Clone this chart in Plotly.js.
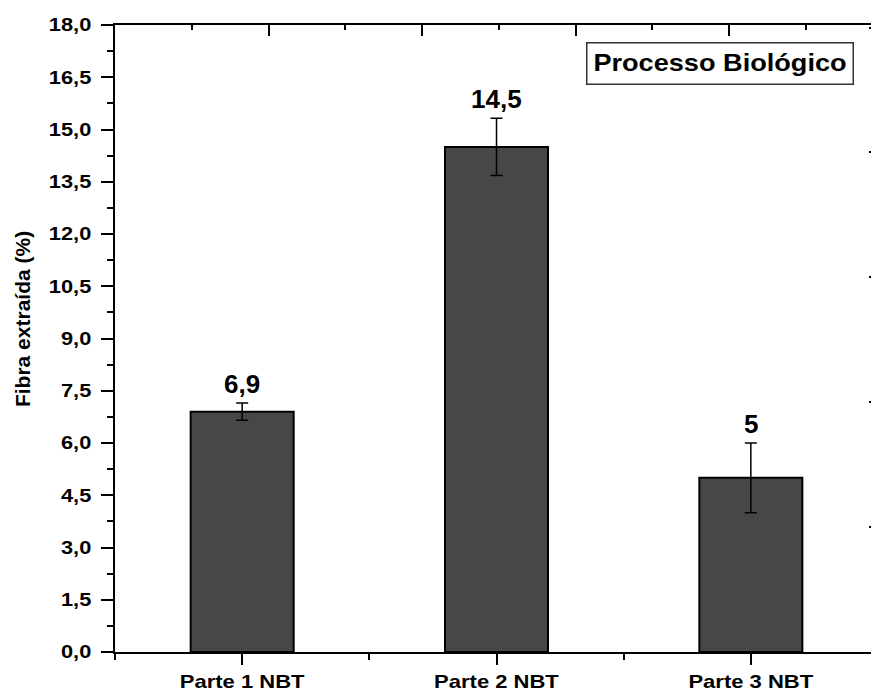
<!DOCTYPE html>
<html>
<head>
<meta charset="utf-8">
<script src="https://cdn.plot.ly/plotly-3.0.1.min.js"></script>
<style>
  html, body { margin: 0; padding: 0; overflow: hidden; background: #fff; }
  #chart { width: 885px; height: 693px; }
</style>
</head>
<body>
<div id="chart"></div>
<script>
// Extracted fibre per part (%), with standard deviation
const categories = ['Parte 1 NBT', 'Parte 2 NBT', 'Parte 3 NBT'];
const fibraExtraida = [6.9, 14.5, 5];
const desvio = [0.25, 0.82, 1.0];
const yTitle = 'Fibra extraída (%)';
const boxLabel = 'Processo Biológico';

const FONT = 'Liberation Sans, Arial, sans-serif';
const xPos = categories.map((_, i) => i);
const fmtValue = v => String(v).replace('.', ',');

const bars = {
  type: 'bar',
  x: xPos,
  y: fibraExtraida,
  width: 0.405,
  marker: { color: '#474747', line: { color: '#000', width: 2 } },
  error_y: { type: 'data', array: desvio, visible: true, color: '#000', thickness: 1.5, width: 6 },
  hoverinfo: 'skip',
  showlegend: false
};

// empty trace so the mirrored top/right frame axes get their own subplot
const frame = { type: 'scatter', x: [], y: [], xaxis: 'x2', yaxis: 'y2', showlegend: false, hoverinfo: 'skip' };

const tickFont = { family: FONT, size: 18.5, color: '#000', weight: 'bold' };

const valueLabels = xPos.map(i => ({
  x: i, y: fibraExtraida[i] + desvio[i], xref: 'x', yref: 'y',
  text: fmtValue(fibraExtraida[i]), showarrow: false,
  xanchor: 'center', yanchor: 'bottom', yshift: 2,
  font: { family: FONT, size: 26, color: '#000', weight: 'bold' }
}));

const layout = {
  width: 885, height: 693,
  margin: { l: 115, r: 7, t: 25, b: 41 },
  paper_bgcolor: '#fff', plot_bgcolor: '#fff',
  separators: ',.',
  showlegend: false,
  xaxis: {
    range: [-0.5, 2.5], tickmode: 'array', tickvals: xPos, ticktext: categories,
    ticks: 'outside', ticklen: 11, tickwidth: 2, tickcolor: '#000',
    showline: true, linewidth: 2, linecolor: '#000',
    showgrid: false, zeroline: false, tickfont: tickFont, ticklabelstandoff: 1,
    minor: { tickmode: 'linear', tick0: -0.5, dtick: 1, ticks: 'outside', ticklen: 6, tickwidth: 2, tickcolor: '#000', showgrid: false },
    fixedrange: true
  },
  yaxis: {
    range: [0, 18], tickmode: 'linear', tick0: 0, dtick: 1.5, tickformat: '.1f',
    ticks: 'outside', ticklen: 12, tickwidth: 2, tickcolor: '#000',
    showline: true, linewidth: 2, linecolor: '#000',
    showgrid: false, zeroline: false, tickfont: tickFont, ticklabelstandoff: 6,
    minor: { tickmode: 'linear', tick0: 0, dtick: 0.75, ticks: 'outside', ticklen: 6, tickwidth: 2, tickcolor: '#000', showgrid: false },
    fixedrange: true
  },
  xaxis2: {
    overlaying: 'x', side: 'top', anchor: 'y2', range: [0, 4.97],
    tickmode: 'linear', tick0: 0, dtick: 1,
    ticks: 'inside', ticklen: 11, tickwidth: 2, tickcolor: '#000',
    minor: { tickmode: 'linear', tick0: 0, dtick: 0.5, ticks: 'inside', ticklen: 5, tickwidth: 2, tickcolor: '#000', showgrid: false },
    showline: true, linewidth: 2, linecolor: '#000',
    showticklabels: false, showgrid: false, zeroline: false, fixedrange: true
  },
  yaxis2: {
    overlaying: 'y', side: 'right', anchor: 'x2', range: [0, 5.02],
    tickmode: 'linear', tick0: 0, dtick: 1,
    ticks: 'inside', ticklen: 9, tickwidth: 2, tickcolor: '#000',
    minor: { tickmode: 'linear', tick0: 0, dtick: 0.5, ticks: 'inside', ticklen: 5, tickwidth: 2, tickcolor: '#000', showgrid: false },
    showline: true, linewidth: 2, linecolor: '#000',
    showticklabels: false, showgrid: false, zeroline: false, fixedrange: true
  },
  annotations: [
    ...valueLabels,
    {
      xref: 'paper', yref: 'paper', x: -0.1219, y: 0.531,
      text: yTitle, textangle: -90, showarrow: false,
      xanchor: 'center', yanchor: 'middle',
      font: { family: FONT, size: 21, color: '#000', weight: 'bold' }
    },
    {
      xref: 'paper', yref: 'paper', x: 0.793, y: 0.938,
      text: boxLabel, showarrow: false,
      xanchor: 'center', yanchor: 'middle',
      width: 265, height: 40, align: 'center', valign: 'middle',
      bordercolor: '#333', borderwidth: 1.5, borderpad: 0, bgcolor: '#fff',
      font: { family: FONT, size: 23, color: '#000', weight: 'bold' }
    }
  ]
};

// widen a set of text labels horizontally about their anchor point
function widen(selector, s) {
  document.querySelectorAll(selector).forEach(t => {
    const b = t.getBBox();
    const anchor = t.getAttribute('text-anchor');
    const ax = anchor === 'end' ? b.x + b.width : anchor === 'start' ? b.x : b.x + b.width / 2;
    const prev = t.getAttribute('transform') || '';
    t.setAttribute('transform', prev + ' translate(' + ax + ',0) scale(' + s + ',1) translate(' + (-ax) + ',0)');
  });
}

Plotly.newPlot('chart', [bars, frame], layout, { staticPlot: true, displayModeBar: false }).then(() => {
  widen('#chart .xtick text', 1.19);
  widen('#chart .ytick text', 1.18);
  const boxIndex = layout.annotations.length - 1;
  widen('#chart g.annotation[data-index="' + boxIndex + '"] text', 1.18);
});
</script>
</body>
</html>
